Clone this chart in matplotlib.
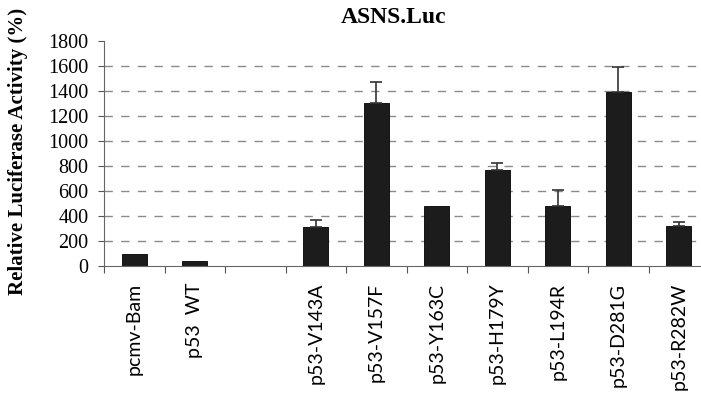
import numpy as np
import matplotlib.pyplot as plt

# data
labels = ["pcmv-Bam", "p53  WT", "", "p53-V143A", "p53-V157F", "p53-Y163C",
          "p53-H179Y", "p53-L194R", "p53-D281G", "p53-R282W"]
values = [98, 42, 0, 313, 1303, 479, 772, 479, 1391, 319]
errors = [0, 0, 0, 55, 168, 0, 52, 128, 200, 30]
yticks = [0, 200, 400, 600, 800, 1000, 1200, 1400, 1600, 1800]

fig = plt.figure(figsize=(7.01, 3.97), dpi=100)
ax = fig.add_axes([104 / 701, 1 - 266 / 397, 605 / 701, 225 / 397])

x = np.arange(len(labels))
vals = np.array(values, dtype=float)
errs = np.array(errors, dtype=float)
mask = vals > 0

# === GRID ===
for t in yticks[1:-1]:
    ax.axhline(t, color="#8a8a8a", linestyle=(0, (6, 6)), linewidth=1.0, zorder=0)

# === BARS ===
ax.bar(x[mask], vals[mask], width=0.42, color="#1c1c1c", edgecolor="#000000",
       linewidth=0.6, zorder=2)

# only upper error bars
em = errs > 0
ax.errorbar(x[em], vals[em], yerr=[np.zeros(em.sum()), errs[em]], fmt="none",
            ecolor="#333333", elinewidth=1.2, capsize=4, capthick=1.2, zorder=3)

ax.set_xlim(-0.5, len(labels) - 0.5)
ax.set_ylim(0, 1800)
ax.set_yticks(yticks)
ax.set_yticklabels([str(t) for t in yticks], fontfamily="Liberation Serif", fontsize=14.5)

# ticks between categories
ax.set_xticks(np.arange(len(labels) + 1) - 0.5)
ax.set_xticklabels([])
ax.set_xticks(x, minor=True)
ax.set_xticklabels(labels, minor=True, rotation=90, fontfamily="Lato", fontsize=14)
ax.tick_params(axis="x", which="minor", length=0, pad=12)
ax.tick_params(axis="x", which="major", length=5, direction="out", color="#555555")
ax.tick_params(axis="y", length=4, color="#555555", pad=7)

for s in ["top", "right"]:
    ax.spines[s].set_visible(False)
ax.spines["left"].set_color("#666666")
ax.spines["bottom"].set_color("#666666")

ax.set_ylabel("Relative Luciferase Activity (%)", fontfamily="Liberation Serif",
              fontweight="bold", fontsize=15)
ax.yaxis.set_label_coords(-0.126, 0.51)
ax.set_title("ASNS.Luc", fontfamily="Liberation Serif", fontweight="bold",
             fontsize=17, x=0.478, pad=13)

fig.savefig("out.png", dpi=100)
